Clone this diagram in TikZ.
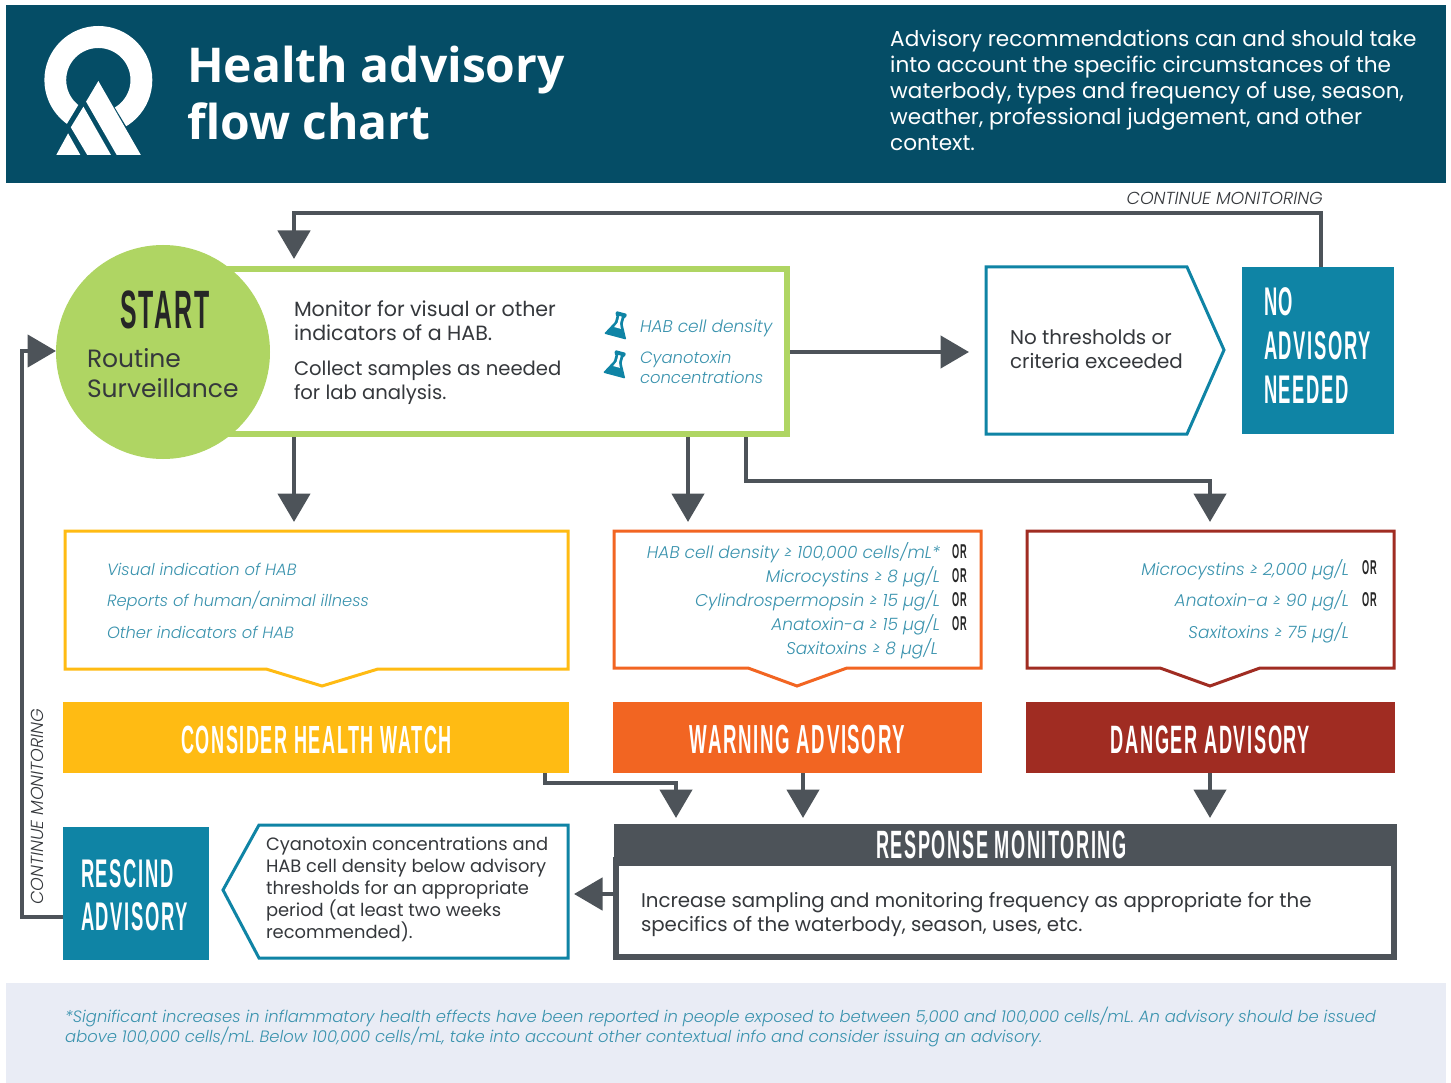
\documentclass[tikz,border=0pt]{standalone}
\usepackage{fontspec}
\setmainfont{Poppins}
\newfontfamily\lightf{Poppins Light}
\newfontfamily\titlef{Open Sans}[BoldFont={Open Sans Bold}]
\newfontfamily\condf[FakeStretch=0.46,LetterSpace=4]{Liberation Sans}
\usetikzlibrary{arrows.meta,calc}
\definecolor{headbg}{HTML}{054D66}
\definecolor{teal}{HTML}{0F84A5}
\definecolor{ital}{HTML}{3A93AE}
\definecolor{lime}{HTML}{AFD563}
\definecolor{conn}{HTML}{4D5359}
\definecolor{ink}{HTML}{35383C}
\definecolor{amber}{HTML}{FFBB13}
\definecolor{orng}{HTML}{F26522}
\definecolor{brick}{HTML}{A02C22}
\definecolor{footbg}{HTML}{E9ECF5}
\tikzset{
  x=1pt,y=-1pt,
  fr/.style 2 args={font=\fontsize{#1}{#2}\selectfont},
  fl/.style 2 args={font=\lightf\itshape\fontsize{#1}{#2}\selectfont},
  fc/.style 2 args={font=\condf\bfseries\fontsize{#1}{#2}\selectfont},
  panel/.style 2 args={rectangle,fill=#1,inner sep=0,outer sep=0,minimum width=#2},
  body/.style={anchor=base west,inner sep=0,outer sep=0,align=left,text=ink},
  ilist/.style={inner sep=0,outer sep=0,text=ital},
  head/.style={text=white,inner sep=0,outer sep=0},
  flow/.style={draw=conn,line width=4.7pt,-{Triangle[width=32pt,length=28.5pt]}},
  outline/.style={line width=3pt,fill=white,line join=miter},
  pics/flask/.style={code={
    \fill[teal,rounded corners=1pt] (-5.5,-14)--(5.5,-14)--(5.5,-10)--(4,-10)--(4,-3)--(11.5,11)--(-11.5,11)--(-4,-3)--(-4,-10)--(-5.5,-10)--cycle;
    \fill[white] (-1.2,-10)--(1.2,-10)--(1.2,-3)--(3.5,2)--(-3.5,2)--(-1.2,-3)--cycle;
  }}
}
\begin{document}
\begin{tikzpicture}
\useasboundingbox (0,0) rectangle (1451,1083);
\fill[white] (0,0) rectangle (1451,1083);
% bands
\node[panel={headbg}{1440pt},minimum height=178pt] (header) at (726,94) {};
\node[panel={footbg}{1440pt},minimum height=100pt] (footer) at (726,1033) {};
% logo
\begin{scope}[xscale=0.3827,yscale=0.3333]
  \fill[white,even odd rule] (257,240) ellipse [x radius=141,y radius=162] (257,240) ellipse [x radius=84,y radius=96];
  \fill[headbg] (205,315)--(175,372)--(130,480)--(400,480)--(330,380)--(300,323)--(257,243)--cycle;
  \fill[white] (257,243)--(368,465)--(305,465)--(225,305)--cycle;
  \fill[white] (218,320)--(290,465)--(228,465)--(185,382)--cycle;
  \fill[white] (178,400)--(210,465)--(147,465)--cycle;
\end{scope}
\node[anchor=base west,inner sep=0,text=white,align=left,font=\titlef\bfseries\fontsize{48}{57}\selectfont] (title) at (187,140) {Health advisory\\flow chart};
\node[anchor=base west,inner sep=0,text=white,align=left,fr={21.6}{26.2}] (intro) at (890,151) {Advisory recommendations can and should take\\into account the specific circumstances of the\\waterbody, types and frequency of use, season,\\weather, professional judgement, and other\\context.};
% main box and circle
\node[rectangle,draw=lime,line width=6pt,fill=white,minimum width=584pt,minimum height=165pt] (mainbox) at (495,351.5) {};
\node[circle,fill=lime,minimum size=214pt,inner sep=0] (startc) at (163,352) {};
\node[head,text=black!85,anchor=base,fc={54}{54}] (startl) at (165,329) {START};
\node[body,fr={25}{30}] (routine) at (87,397) {Routine\\Surveillance};
\node[body,fr={20.6}{24}] (mon1) at (294,340) {Monitor for visual or other\\indicators of a HAB.};
\node[body,fr={19.6}{24}] (mon2) at (294,399) {Collect samples as needed\\for lab analysis.};
\pic[rotate=-15] at (618,326) {flask};
\pic[rotate=-15] at (617,365) {flask};
\node[ilist,anchor=base west,align=left,fl={17}{20}] (hab) at (640,332) {HAB cell density};
\node[ilist,anchor=base west,align=left,fl={16.4}{20}] (cyano) at (640,383) {Cyanotoxin\\concentrations};
% no thresholds
\coordinate (nttip) at (969,352);
\draw[teal,outline] (986,267)--(1187,267)--(1224,350)--(1187,434)--(986,434)--cycle;
\node[body,fr={19.9}{24}] (nt) at (1010,368) {No thresholds or\\criteria exceeded};
\node[panel={teal}{152pt},minimum height=167pt] (noadv) at (1318,350.5) {};
\node[head,anchor=base west,align=left,fc={40}{44}] (noadvl) at (1264,403) {NO\\ADVISORY\\NEEDED};
% lists
\draw[amber,outline] (65,531)--(568,531)--(568,669)--(378,669)--(322,686)--(266,669)--(65,669)--cycle;
\node[ilist,anchor=base west,align=left,fl={16.3}{31.5}] (ylist) at (107,638) {Visual indication of HAB\\Reports of human/animal illness\\Other indicators of HAB};
\draw[orng,outline] (614,531)--(981,531)--(981,668)--(847,668)--(797,686)--(748,668)--(614,668)--cycle;
\node[ilist,anchor=base east,align=right,fl={17}{24}] (olist) at (940,654) {HAB cell density ≥ 100,000 cells/mL*\\Microcystins ≥ 8 µg/L\hspace*{2pt}\\Cylindrospermopsin ≥ 15 µg/L\hspace*{2pt}\\Anatoxin-a ≥ 15 µg/L\hspace*{2pt}\\Saxitoxins ≥ 8 µg/L\hspace*{2pt}};
\node[anchor=base west,inner sep=0,text=black!85,align=left,fc={20}{24}] (oor) at (952,630) {OR\\OR\\OR\\OR};
\draw[brick,outline] (1027,531)--(1394,531)--(1394,668)--(1260,668)--(1210,686)--(1160,668)--(1027,668)--cycle;
\node[ilist,anchor=base east,align=right,fl={17}{31.5}] (rlist) at (1349,638) {Microcystins ≥ 2,000 µg/L\\Anatoxin-a ≥ 90 µg/L\\Saxitoxins ≥ 75 µg/L};
\node[anchor=base west,inner sep=0,text=black!85,align=left,fc={20}{31.5}] (ror) at (1362,606) {OR\\OR};
% banners
\node[panel={amber}{506pt},minimum height=71pt] (bwatch) at (316,737.5) {};
\node[head,fc={39.3}{39}] (bwatchl) at (316.5,740) {CONSIDER HEALTH WATCH};
\node[panel={orng}{369pt},minimum height=71pt] (bwarn) at (797.5,737.5) {};
\node[head,fc={40.6}{39}] (bwarnl) at (797.5,740) {WARNING ADVISORY};
\node[panel={brick}{369pt},minimum height=71pt] (bdanger) at (1210.5,737.5) {};
\node[head,fc={39.6}{39}] (bdangerl) at (1210.5,740) {DANGER ADVISORY};
% response
\node[rectangle,draw=conn,line width=5.5pt,fill=white,minimum width=777.75pt,minimum height=97pt] (respbox) at (1005,908.5) {};
\node[panel={conn}{783.5pt},minimum height=42.5pt] (resphead) at (1005.25,844.75) {};
\node[head,fc={39.5}{39}] (respheadl) at (1001.5,845) {RESPONSE MONITORING};
\node[body,fr={19.8}{24}] (resptext) at (641,931) {Increase sampling and monitoring frequency as appropriate for the\\specifics of the waterbody, season, uses, etc.};
% rescind
\draw[teal,outline] (259,825)--(568,825)--(568,958)--(259,958)--(223,890)--cycle;
\node[body,fr={17.9}{21.8}] (rtext) at (266,938) {Cyanotoxin concentrations and\\HAB cell density below advisory\\thresholds for an appropriate\\period (at least two weeks\\recommended).};
\node[panel={teal}{146pt},minimum height=133pt] (rescind) at (136,893.5) {};
\node[head,anchor=base west,align=left,fc={40}{43}] (rescindl) at (81,930) {RESCIND\\ADVISORY};
% footer text
\node[anchor=base west,inner sep=0,text=ital,align=left,fl={16.4}{20}] (foot) at (65,1042) {*Significant increases in inflammatory health effects have been reported in people exposed to between 5,000 and 100,000 cells/mL. An advisory should be issued\\above 100,000 cells/mL. Below 100,000 cells/mL, take into account other contextual info and consider issuing an advisory.};
% connector targets
\coordinate (toptip) at (294,259);
\coordinate (lefttip) at (56,351);
\coordinate (ytip) at (294,522);
\coordinate (otip) at (688,522);
\coordinate (rtip) at (1210,522);
\coordinate (m1) at (676,818);
\coordinate (m2) at (803,818);
\coordinate (m3) at (1210,818);
\coordinate (rstip) at (574,894);
% connectors
\draw[flow] ($(noadv.north)+(3,0)$) -- (1321,213) -- (294,213) -- (toptip);
\draw[flow] (mainbox.east |- nttip) -- (nttip);
\draw[flow] (mainbox.south -| ytip) -- (ytip);
\draw[flow] (mainbox.south -| otip) -- (otip);
\draw[flow] (746,437) -- (746,481) -- (1210,481) -- (rtip);
\draw[flow] (545,773) -- (545,783) -- (676,783) -- (m1);
\draw[flow] (bwarn.south -| m2) -- (m2);
\draw[flow] (bdanger.south -| m3) -- (m3);
\draw[flow] (respbox.west |- rstip) -- (rstip);
\draw[flow] (rescind.west |- 0,917) -- (22,917) -- (22,351) -- (lefttip);
% monitoring labels
\node[anchor=base east,inner sep=0,text=ink,fl={17.4}{17}] (cm1) at (1323,205) {CONTINUE MONITORING};
\node[anchor=base west,inner sep=0,text=ink,rotate=90,fl={17.4}{17}] (cm2) at (43,905) {CONTINUE MONITORING};
\end{tikzpicture}
\end{document}
